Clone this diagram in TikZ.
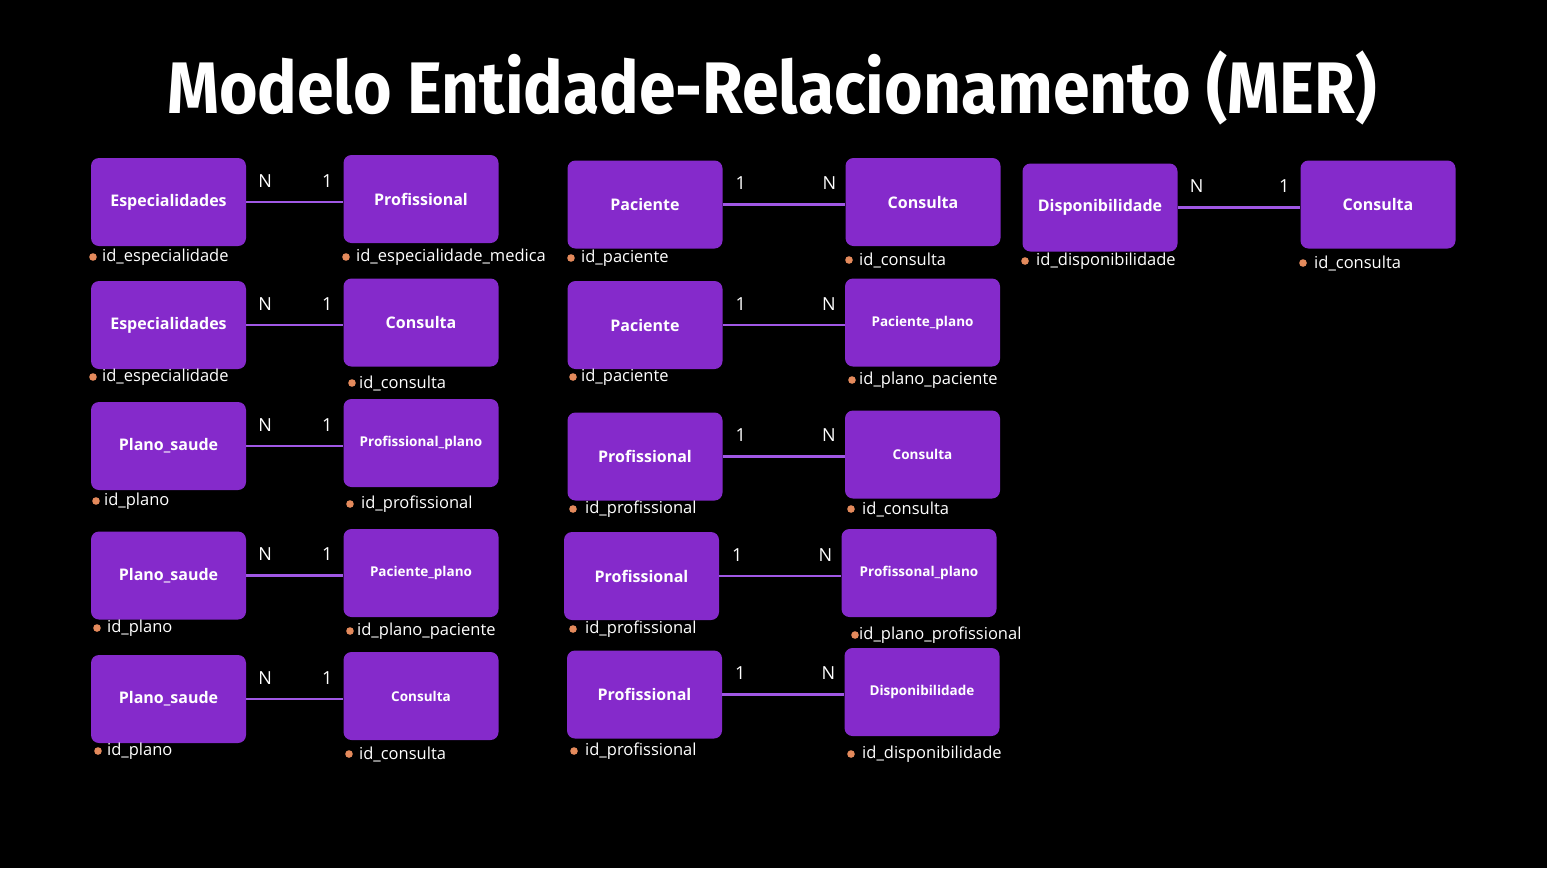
\documentclass[tikz,border=0pt]{standalone}
\usepackage{fontspec}
\setmainfont{Open Sans}
\newfontfamily\titlefont{Fira Sans}
\usepackage{tikz}
\usetikzlibrary{positioning}

\definecolor{roxo}{RGB}{133,42,203}
\definecolor{linharoxa}{RGB}{160,88,228}
\definecolor{laranja}{RGB}{228,138,92}

\tikzset{
  entidade/.style={fill=roxo, rounded corners=8pt, minimum width=155pt, minimum height=88pt,
    text=white, font=\fontsize{16}{18}\selectfont\bfseries, inner sep=0pt},
  entpequena/.style={entidade, font=\fontsize{13.5}{16}\selectfont\bfseries},
  relacao/.style={draw=linharoxa, line width=2.6pt},
  card/.style={text=white, font=\fontsize{18}{20}\selectfont, inner sep=0pt},
  attr/.style={text=white, font=\fontsize{16.5}{20}\selectfont, anchor=west, inner sep=0pt},
  ponto/.style={fill=laranja}
}

\begin{document}
\begin{tikzpicture}[x=1pt, y=-1pt]

  % Sfondo
  \fill[black] (0,0) rectangle (1547,868);
  \useasboundingbox (0,0) rectangle (1547,868);

  % Titolo
  \node[text=white] (titolo) at (772,88)
    {\scalebox{0.905}[1]{\titlefont\fontsize{73}{80}\selectfont\bfseries Modelo Entidade-Relacionamento (MER)}};

  % Colonna sinistra
  \node[entidade] (esp1) at (168.5,202) {Especialidades};
  \node[entidade] (prof1) at (421,199) {Profissional};
  \node[entidade] (esp2) at (168.5,325) {Especialidades};
  \node[entidade] (cons1) at (421,322.5) {Consulta};
  \node[entidade] (plano1) at (168.5,446) {Plano\_saude};
  \node[entpequena] (profplano1) at (421,443) {Profissional\_plano};
  \node[entidade] (plano2) at (168.5,575.5) {Plano\_saude};
  \node[entpequena] (pacplano1) at (421,573) {Paciente\_plano};
  \node[entidade] (plano3) at (168.5,699) {Plano\_saude};
  \node[entpequena] (cons2) at (421,696) {Consulta};

  % Colonna centrale
  \node[entidade] (pac1) at (645,204.5) {Paciente};
  \node[entidade] (cons3) at (923,202) {Consulta};
  \node[entidade] (pac2) at (645,325) {Paciente};
  \node[entpequena] (pacplano2) at (922.5,322.5) {Paciente\_plano};
  \node[entidade] (prof2) at (645,456.5) {Profissional};
  \node[entpequena] (cons4) at (922.5,454.5) {Consulta};
  \node[entidade] (prof3) at (641.5,576) {Profissional};
  \node[entpequena] (profplano2) at (919,573) {Profissonal\_plano};
  \node[entidade] (prof4) at (644.5,694.5) {Profissional};
  \node[entpequena] (disp1) at (922,692) {Disponibilidade};

  % Colonna destra
  \node[entidade] (disp2) at (1100,207.5) {Disponibilidade};
  \node[entidade] (cons5) at (1378,204.5) {Consulta};

  % Relazioni N:1
  \foreach \a/\b in {esp1/prof1, esp2/cons1, plano1/profplano1, plano2/pacplano1, plano3/cons2, disp2/cons5}
    \draw[relacao] (\a.east) -- (\a.east -| \b.west)
      node[card, at start, xshift=19pt, yshift=21pt] {N}
      node[card, at end, xshift=-16pt, yshift=21pt] {1};

  % Relazioni 1:N
  \foreach \a/\b in {pac1/cons3, pac2/pacplano2, prof2/cons4, prof3/profplano2, prof4/disp1}
    \draw[relacao] (\a.east) -- (\a.east -| \b.west)
      node[card, at start, xshift=18pt, yshift=21pt] {1}
      node[card, at end, xshift=-16pt, yshift=21pt] {N};

  % Attributi
  \foreach \nome/\px/\tx/\ty/\testo in {
      a1/93/102/257/id\_especialidade,
      a2/346/356/257/id\_especialidade\_medica,
      a3/93/102/377/id\_especialidade,
      a4/352/359/383/id\_consulta,
      a5/96/104/501/id\_plano,
      a6/350/361/504/id\_profissional,
      a7/97/107/628/id\_plano,
      a8/350/357/631/id\_plano\_paciente,
      a9/98/107/751/id\_plano,
      a10/349/359/754/id\_consulta,
      a11/571/581/258/id\_paciente,
      a12/849/859/260/id\_consulta,
      a13/573/581/377/id\_paciente,
      a14/852/859/380/id\_plano\_paciente,
      a15/573/585/509/id\_profissional,
      a16/851/862/509/id\_consulta,
      a17/573/585/629/id\_profissional,
      a18/855/859/635/id\_plano\_profissional,
      a19/574/585/751/id\_profissional,
      a20/851/862/754/id\_disponibilidade,
      a21/1025/1036/261/id\_disponibilidade,
      a22/1303/1314/263/id\_consulta}
  {
    \fill[ponto] (\px,\ty) circle (3.8pt);
    \node[attr] (\nome) at (\tx,\ty) {\testo};
  }

\end{tikzpicture}
\end{document}
